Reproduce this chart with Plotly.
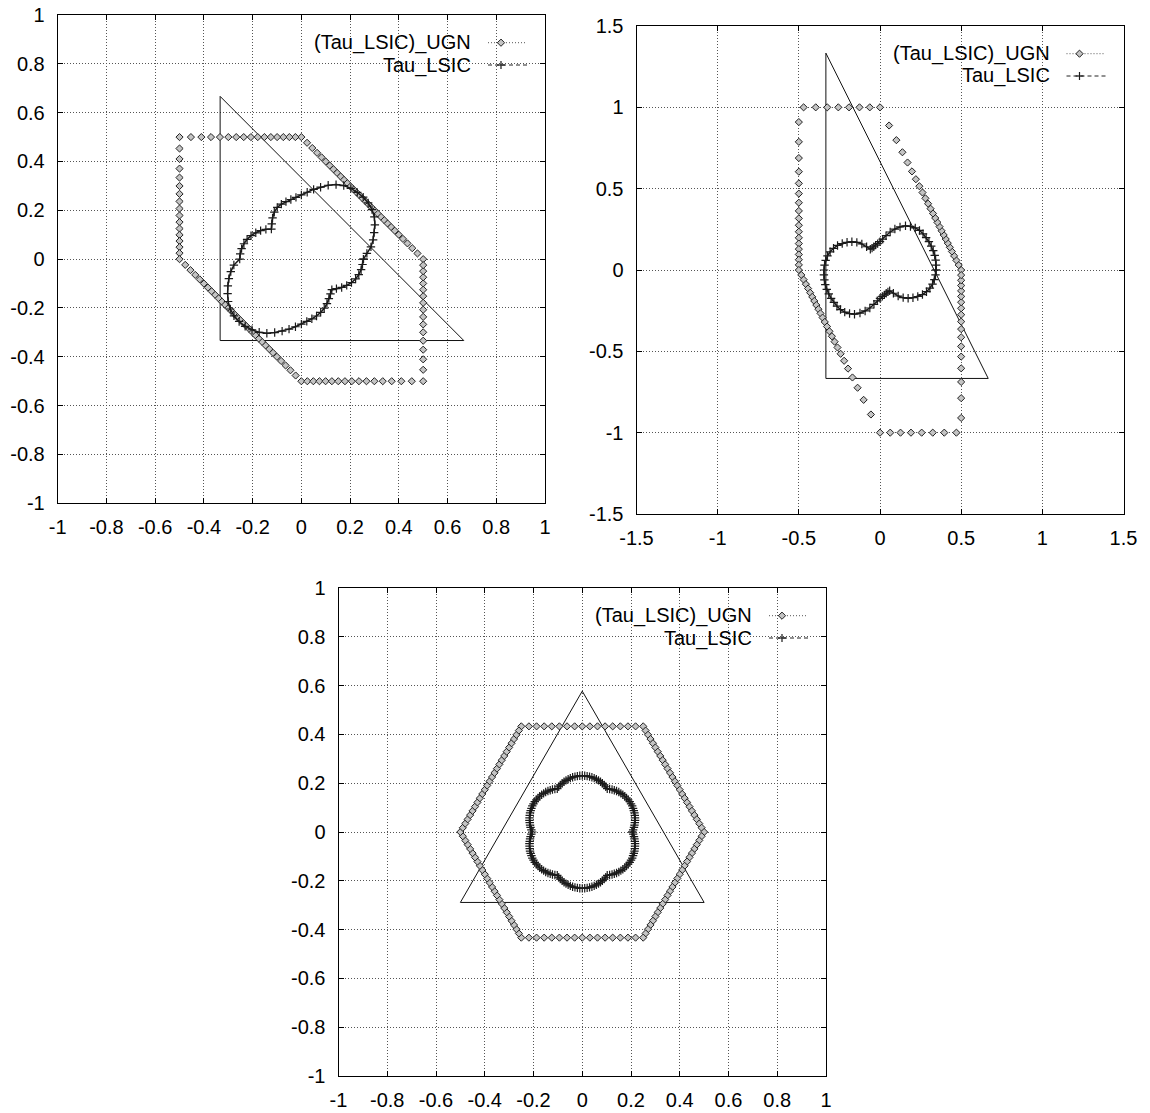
import math
import plotly.graph_objects as go

W, H = 1150, 1113

# ------------------------------------------------------------------ data
SERIES_UGN = "(Tau_LSIC)_UGN"
SERIES_LSIC = "Tau_LSIC"

TICKS_A = [-1, -0.8, -0.6, -0.4, -0.2, 0, 0.2, 0.4, 0.6, 0.8, 1]
TICK_TEXT_A = ["-1", "-0.8", "-0.6", "-0.4", "-0.2", "0", "0.2", "0.4", "0.6", "0.8", "1"]
TICKS_B = [-1.5, -1, -0.5, 0, 0.5, 1, 1.5]
TICK_TEXT_B = ["-1.5", "-1", "-0.5", "0", "0.5", "1", "1.5"]

# angles (degrees) at which the Tau_LSIC radii were read
LSIC_ANGLES_5 = list(range(0, 360, 5))
LSIC_ANGLES_2_5 = [k * 2.5 for k in range(144)]

# ---- panel 1 (top left)
P1_UGN_VX = [-0.5, 0.0, 0.5, 0.5, 0.0, -0.5]
P1_UGN_VY = [0.5, 0.5, 0.0, -0.5, -0.5, 0.0]
P1_UGN_COUNT = 128          # markers at equal polar angles
P1_TRI_X = [-1/3, 2/3, -1/3, -1/3]
P1_TRI_Y = [-1/3, -1/3, 2/3, -1/3]
P1_LSIC_R = [0.255, 0.270, 0.290, 0.305, 0.318, 0.333, 0.346, 0.354, 0.358, 0.359, 0.357, 0.354,
             0.348, 0.337, 0.322, 0.305, 0.290, 0.275, 0.263, 0.254, 0.248, 0.244, 0.240, 0.234,
             0.222, 0.206, 0.189, 0.174, 0.190, 0.204, 0.216, 0.228, 0.237, 0.244, 0.249, 0.252,
             0.253, 0.278, 0.294, 0.308, 0.321, 0.334, 0.347, 0.356, 0.361, 0.361, 0.359, 0.353,
             0.346, 0.335, 0.320, 0.305, 0.291, 0.278, 0.266, 0.256, 0.248, 0.241, 0.232, 0.222,
             0.210, 0.197, 0.186, 0.177, 0.188, 0.202, 0.215, 0.227, 0.237, 0.244, 0.249, 0.252]

# ---- panel 2 (top right)
P2_UGN_VX = [-0.5, 0.0, 0.5, 0.5, 0.0, -0.5]
P2_UGN_VY = [1.0, 1.0, 0.0, -1.0, -1.0, 0.0]
P2_UGN_COUNT = 100
P2_TRI_X = [-1/3, 2/3, -1/3, -1/3]
P2_TRI_Y = [-2/3, -2/3, 4/3, -2/3]
P2_LSIC_R = [0.345, 0.347, 0.348, 0.349, 0.349, 0.348, 0.348, 0.347, 0.346, 0.344, 0.338, 0.327,
             0.314, 0.292, 0.268, 0.242, 0.214, 0.190, 0.174, 0.163, 0.155, 0.148, 0.143, 0.141,
             0.165, 0.195, 0.222, 0.245, 0.265, 0.284, 0.302, 0.316, 0.327, 0.335, 0.340, 0.343,
             0.345, 0.347, 0.348, 0.349, 0.349, 0.348, 0.348, 0.347, 0.346, 0.344, 0.338, 0.327,
             0.314, 0.292, 0.268, 0.242, 0.214, 0.190, 0.174, 0.163, 0.155, 0.148, 0.143, 0.141,
             0.165, 0.195, 0.222, 0.245, 0.265, 0.284, 0.302, 0.316, 0.327, 0.335, 0.340, 0.343]

# ---- panel 3 (bottom)
P3_UGN_VX = [-0.25, 0.25, 0.5, 0.25, -0.25, -0.5]
P3_UGN_VY = [0.433, 0.433, 0.0, -0.433, -0.433, 0.0]
P3_UGN_EDGE_COUNTS = [16, 25, 25, 16, 25, 25]   # markers per edge, evenly spaced
P3_TRI_X = [-0.5, 0.5, 0.0, -0.5]
P3_TRI_Y = [-0.2887, -0.2887, 0.5774, -0.2887]
P3_LSIC_R = [
    0.205, 0.209, 0.213, 0.216, 0.219, 0.222, 0.224, 0.226, 0.228, 0.229, 0.230, 0.231,
    0.231, 0.231, 0.230, 0.229, 0.228, 0.226, 0.224, 0.222, 0.219, 0.216, 0.213, 0.209,
    0.205, 0.209, 0.213, 0.216, 0.219, 0.222, 0.224, 0.226, 0.228, 0.229, 0.230, 0.231,
    0.231, 0.231, 0.230, 0.229, 0.228, 0.226, 0.224, 0.222, 0.219, 0.216, 0.213, 0.209,
    0.205, 0.209, 0.213, 0.216, 0.219, 0.222, 0.224, 0.226, 0.228, 0.229, 0.230, 0.231,
    0.231, 0.231, 0.230, 0.229, 0.228, 0.226, 0.224, 0.222, 0.219, 0.216, 0.213, 0.209,
    0.205, 0.209, 0.213, 0.216, 0.219, 0.222, 0.224, 0.226, 0.228, 0.229, 0.230, 0.231,
    0.231, 0.231, 0.230, 0.229, 0.228, 0.226, 0.224, 0.222, 0.219, 0.216, 0.213, 0.209,
    0.205, 0.209, 0.213, 0.216, 0.219, 0.222, 0.224, 0.226, 0.228, 0.229, 0.230, 0.231,
    0.231, 0.231, 0.230, 0.229, 0.228, 0.226, 0.224, 0.222, 0.219, 0.216, 0.213, 0.209,
    0.205, 0.209, 0.213, 0.216, 0.219, 0.222, 0.224, 0.226, 0.228, 0.229, 0.230, 0.231,
    0.231, 0.231, 0.230, 0.229, 0.228, 0.226, 0.224, 0.222, 0.219, 0.216, 0.213, 0.209]


# ------------------------------------------------------------------ helpers
def polar_points(radii, angles):
    xs = [r * math.cos(math.radians(a)) for r, a in zip(radii, angles)]
    ys = [r * math.sin(math.radians(a)) for r, a in zip(radii, angles)]
    return xs + xs[:1], ys + ys[:1]


def polygon_ray_points(vx, vy, count):
    """Points where rays at equal polar angles meet the polygon boundary."""
    m = len(vx)
    xs, ys = [], []
    for k in range(count):
        th = 2 * math.pi * k / count
        ux, uy = math.cos(th), math.sin(th)
        best = None
        for i in range(m):
            ax, ay = vx[i], vy[i]
            ex, ey = vx[(i + 1) % m] - ax, vy[(i + 1) % m] - ay
            det = -ux * ey + ex * uy
            if abs(det) < 1e-12:
                continue
            t = (-ax * ey + ex * ay) / det
            s = (ux * ay - uy * ax) / det
            if t > 1e-9 and -1e-9 <= s <= 1 + 1e-9:
                best = t if best is None else min(best, t)
        xs.append(best * ux)
        ys.append(best * uy)
    return xs, ys


def polygon_edge_points(vx, vy, counts):
    m = len(vx)
    xs, ys = [], []
    for i in range(m):
        ax, ay = vx[i], vy[i]
        bx, by = vx[(i + 1) % m], vy[(i + 1) % m]
        n = counts[i]
        for j in range(n):
            f = j / n
            xs.append(ax + f * (bx - ax))
            ys.append(ay + f * (by - ay))
    return xs, ys


# ------------------------------------------------------------------ figure
fig = go.Figure()

# pixel boxes of the three plotting areas (left, top, right, bottom)
BOXES = [(57.7, 15.0, 545.0, 503.3),
         (636.5, 26.0, 1123.5, 514.0),
         (338.5, 588.0, 826.0, 1076.0)]

panels = [
    (polygon_ray_points(P1_UGN_VX, P1_UGN_VY, P1_UGN_COUNT), polar_points(P1_LSIC_R, LSIC_ANGLES_5),
     (P1_TRI_X, P1_TRI_Y), (-1, 1), TICKS_A, TICK_TEXT_A),
    (polygon_ray_points(P2_UGN_VX, P2_UGN_VY, P2_UGN_COUNT), polar_points(P2_LSIC_R, LSIC_ANGLES_5),
     (P2_TRI_X, P2_TRI_Y), (-1.5, 1.5), TICKS_B, TICK_TEXT_B),
    (polygon_edge_points(P3_UGN_VX, P3_UGN_VY, P3_UGN_EDGE_COUNTS), polar_points(P3_LSIC_R, LSIC_ANGLES_2_5),
     (P3_TRI_X, P3_TRI_Y), (-1, 1), TICKS_A, TICK_TEXT_A),
]

FONT = dict(family="Liberation Sans, Arial, sans-serif", size=20, color="#000")
DIAMOND_FILL = "#c4c4c4"
DIAMOND_EDGE = "#222"
PLUS_COLOR = "#1a1a1a"
layout_axes = {}
shapes = []
annotations = []


def px(x):
    return x / W


def py(y):
    return 1 - y / H


for idx, (ugn, lsic, tri, rng, tv, tt) in enumerate(panels):
    n = "" if idx == 0 else str(idx + 1)
    xa, ya = "x" + n, "y" + n
    # triangle
    fig.add_trace(go.Scatter(x=tri[0], y=tri[1], mode="lines", xaxis=xa, yaxis=ya,
                             line=dict(color="#111", width=1), showlegend=False, hoverinfo="skip"))
    # UGN diamonds
    fig.add_trace(go.Scatter(x=ugn[0], y=ugn[1], mode="markers", xaxis=xa, yaxis=ya, name=SERIES_UGN,
                             marker=dict(symbol="diamond", size=5.5, color=DIAMOND_FILL,
                                         line=dict(width=1, color=DIAMOND_EDGE)),
                             showlegend=False, hoverinfo="skip"))
    # LSIC plus curve
    fig.add_trace(go.Scatter(x=lsic[0], y=lsic[1], mode="lines+markers", xaxis=xa, yaxis=ya, name=SERIES_LSIC,
                             line=dict(color=PLUS_COLOR, width=1.5),
                             marker=dict(symbol="cross-thin", size=6, color=PLUS_COLOR,
                                         line=dict(width=1.2, color=PLUS_COLOR)),
                             showlegend=False, hoverinfo="skip"))
    L, T, R, B = BOXES[idx]
    common = dict(range=list(rng), tickvals=tv, ticktext=tt, ticks="inside", ticklen=5,
                  tickcolor="#000", showline=True, linecolor="#000", linewidth=1, mirror="ticks",
                  showgrid=True, gridcolor="#555", griddash="1px,2px", gridwidth=1, zeroline=False,
                  tickfont=FONT, fixedrange=True, automargin=False)
    layout_axes["xaxis" + n] = dict(domain=[px(L), px(R)], anchor=ya, ticklabelstandoff=6, **common)
    layout_axes["yaxis" + n] = dict(domain=[py(B), py(T)], anchor=xa, ticklabelstandoff=8, **common)

    # legend (text left, sample right)
    rows = [(SERIES_UGN, T + 27.7, "1px,2px", "#555", "diamond"), (SERIES_LSIC, T + 50.0, "4px,3px", "#222", "plus")]
    for label, ry, dash, col, mk in rows:
        annotations.append(dict(x=px(R - 72), y=py(ry), xref="paper", yref="paper", text=label,
                                showarrow=False, xanchor="right", yanchor="middle", font=FONT))
        shapes.append(dict(type="line", xref="paper", yref="paper", x0=px(R - 57), x1=px(R - 18),
                           y0=py(ry), y1=py(ry), line=dict(color=col, width=1, dash=dash)))
        cx = R - 44
        if mk == "diamond":
            d = 3.6
            path = "M{:.5f},{:.5f} L{:.5f},{:.5f} L{:.5f},{:.5f} L{:.5f},{:.5f} Z".format(
                px(cx), py(ry - d), px(cx + d), py(ry), px(cx), py(ry + d), px(cx - d), py(ry))
            shapes.append(dict(type="path", xref="paper", yref="paper", path=path,
                               fillcolor=DIAMOND_FILL, line=dict(color=DIAMOND_EDGE, width=1)))
        else:
            d = 4
            shapes.append(dict(type="line", xref="paper", yref="paper", x0=px(cx - d), x1=px(cx + d),
                               y0=py(ry), y1=py(ry), line=dict(color=PLUS_COLOR, width=1.2)))
            shapes.append(dict(type="line", xref="paper", yref="paper", x0=px(cx), x1=px(cx),
                               y0=py(ry - d), y1=py(ry + d), line=dict(color=PLUS_COLOR, width=1.2)))

fig.update_layout(width=W, height=H, margin=dict(l=0, r=0, t=0, b=0, pad=0, autoexpand=False),
                  autosize=False, paper_bgcolor="white", plot_bgcolor="white", showlegend=False,
                  shapes=shapes, annotations=annotations, **layout_axes)

fig.write_html("out.html")
